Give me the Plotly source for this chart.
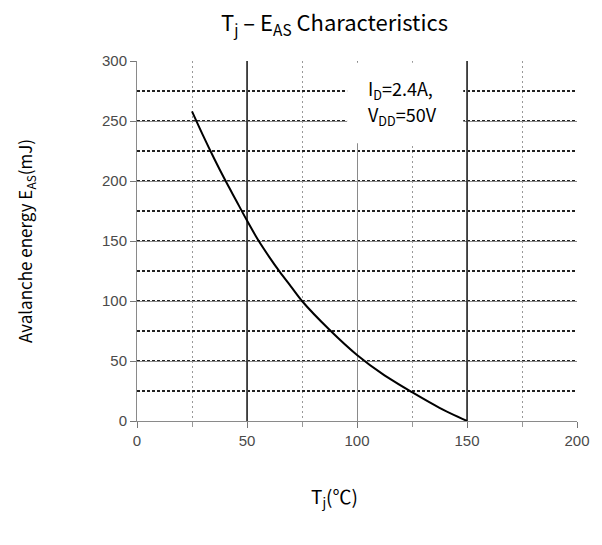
import plotly.graph_objects as go

tj = [25, 30, 35, 40, 45, 50, 55, 60, 65, 70, 75, 87.5, 100, 112.5, 125, 137.5, 150]
eas = [258, 238, 219, 201, 184, 167, 151, 137, 124, 112, 100, 76, 55, 38, 24, 11, 0]

x_ticks = [0, 50, 100, 150, 200]
y_ticks = [0, 50, 100, 150, 200, 250, 300]

FONT = "Noto Sans CJK KR"
TICKFONT = dict(family="Liberation Sans", size=15, color="#4a4a4a")

fig = go.Figure()
fig.add_trace(go.Scatter(x=tj, y=eas, mode="lines",
                         line=dict(color="black", width=2, shape="spline", smoothing=0.8),
                         showlegend=False, hoverinfo="skip"))

fig.update_xaxes(range=[0, 200], tickvals=x_ticks, ticks="outside", ticklen=6,
                 tickcolor="#777777", tickfont=TICKFONT,
                 showgrid=True, gridcolor="#8a8a8a", gridwidth=1,
                 minor=dict(dtick=25, tick0=0, showgrid=True, gridcolor="#999999",
                            griddash="2px,3px", gridwidth=1, ticks="outside",
                            ticklen=5, tickcolor="#999999"),
                 showline=True, linecolor="#8a8a8a", linewidth=1, zeroline=False)
fig.update_yaxes(range=[0, 300], tickvals=y_ticks, ticks="outside", ticklen=6,
                 tickcolor="#777777", tickfont=TICKFONT,
                 showgrid=True, gridcolor="#8a8a8a", gridwidth=1,
                 minor=dict(dtick=25, tick0=0, showgrid=True, gridcolor="#222222",
                            griddash="3px,2px", gridwidth=1.5, ticks=""),
                 showline=True, linecolor="#8a8a8a", linewidth=1, zeroline=False)

# darker verticals at 50 and 150
for xv in [50, 150]:
    fig.add_shape(type="line", x0=xv, x1=xv, y0=0, y1=300, xref="x", yref="y",
                  line=dict(color="#222222", width=1.5), layer="between")
# white box behind the condition text
fig.add_shape(type="rect", x0=95.5, x1=148.3, y0=231.5, y1=298.5, xref="x", yref="y",
              fillcolor="white", line=dict(width=0), layer="between")

fig.add_annotation(x=104, y=276, xref="x", yref="y", xanchor="left", yanchor="middle",
                   text="I<sub>D</sub>=2.4A,", align="left",
                   showarrow=False, font=dict(family=FONT, size=18, color="black"))
fig.add_annotation(x=104, y=255, xref="x", yref="y", xanchor="left", yanchor="middle",
                   text="V<sub>DD</sub>=50V", align="left",
                   showarrow=False, font=dict(family=FONT, size=18, color="black"))

fig.add_annotation(x=0.448, y=1.108, xref="paper", yref="paper", showarrow=False,
                   xanchor="center", yanchor="middle",
                   text="T<sub>j</sub> – E<sub>AS</sub> Characteristics",
                   font=dict(family=FONT, size=22, color="black"))
fig.add_annotation(x=0.448, y=-0.211, xref="paper", yref="paper", showarrow=False,
                   xanchor="center", yanchor="middle",
                   text="T<sub>j</sub>(℃)",
                   font=dict(family=FONT, size=19, color="black"))
fig.add_annotation(x=-0.2545, y=0.5, xref="paper", yref="paper", showarrow=False,
                   xanchor="center", yanchor="middle",
                   text="Avalanche energy E<sub>AS</sub>(mJ)", textangle=-90,
                   font=dict(family=FONT, size=17, color="black"))

fig.update_layout(width=602, height=545, margin=dict(l=137, r=25, t=61, b=124),
                  paper_bgcolor="white", plot_bgcolor="white")
fig.write_html("out.html", config={"displayModeBar": False},
               post_script="document.body.style.margin='0px';")
